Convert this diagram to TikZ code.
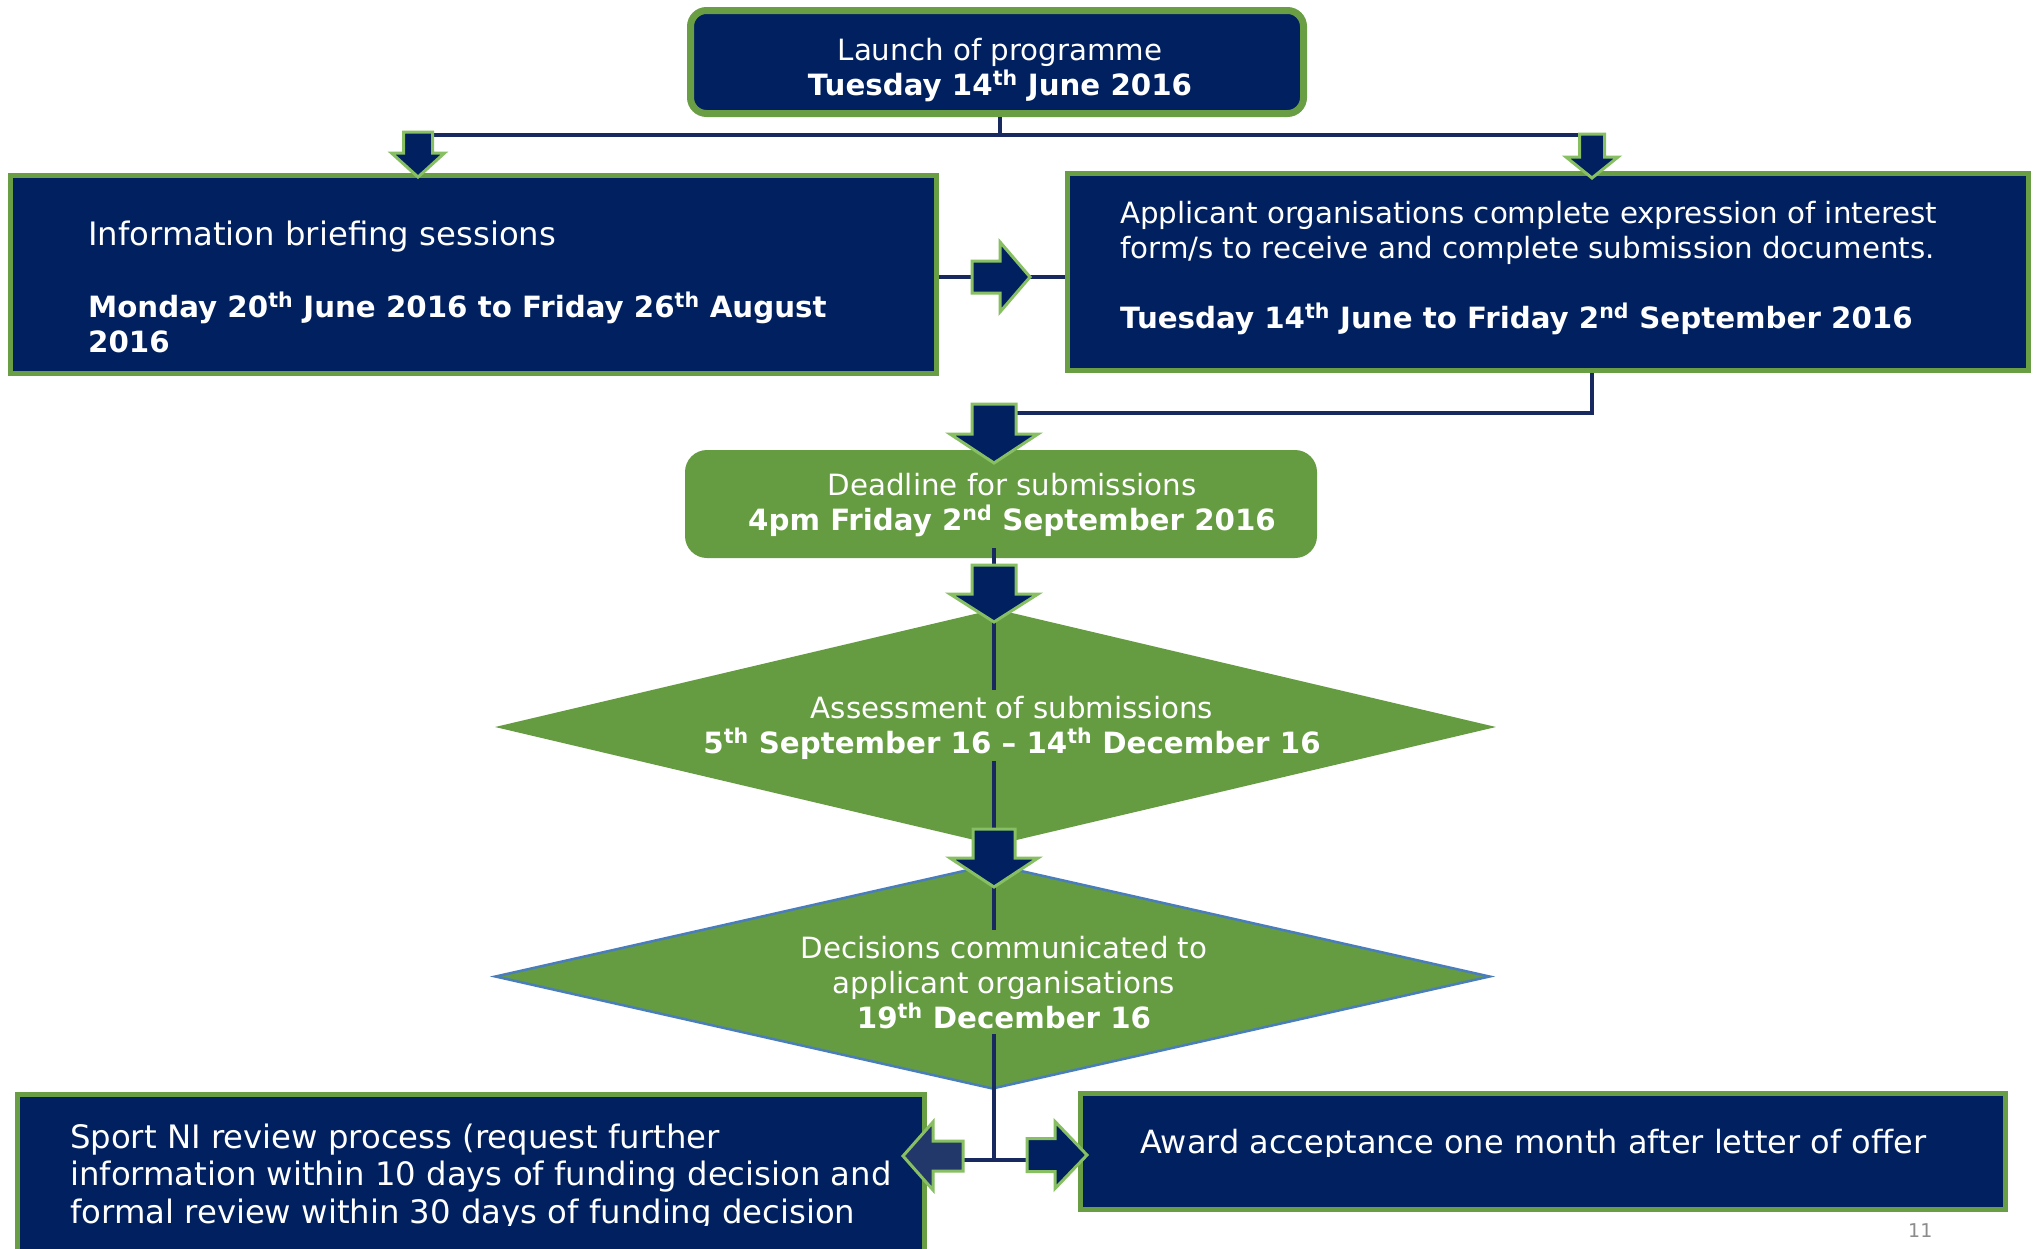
\documentclass[tikz,border=0pt]{standalone}
\usepackage{fontspec}
\setmainfont{DejaVu Sans}
\usetikzlibrary{shapes.geometric}

\definecolor{navy}{HTML}{002060}
\definecolor{leaf}{HTML}{659B41}
\definecolor{leafedge}{HTML}{6A9E44}
\definecolor{lightleaf}{HTML}{87BF62}
\definecolor{wire}{HTML}{17295F}
\definecolor{steel}{HTML}{4A7EBB}
\definecolor{dimnavy}{HTML}{22386A}
\definecolor{pagegray}{HTML}{8C8C8C}

% boxes at the bottom, connectors above them, arrows and texts on top
\pgfdeclarelayer{boxes}
\pgfdeclarelayer{wires}
\pgfsetlayers{boxes,wires,main}

\tikzset{
  navybox/.style={rectangle, draw=leafedge, fill=navy, line width=5pt, inner sep=0},
  conn/.style={draw=wire, line width=4pt},
  blockarrow/.style={draw=lightleaf, line width=3pt, line join=miter},
  txt/.style={inner sep=0, text=white, font=\fontsize{29.3}{35}\selectfont},
  % block arrow, tip at the origin, pointing right:
  % #1 length, #2 head length, #3 head half width, #4 shaft half width, #5 fill
  pics/barrow/.style n args={5}{code={
    \path[blockarrow, fill=#5] (0,0) -- (-#2,-#3) -- (-#2,-#4) -- (-#1,-#4)
      -- (-#1,#4) -- (-#2,#4) -- (-#2,#3) -- cycle;
    \coordinate (-tip) at (0,0);
    \coordinate (-tail) at (-#1,0);
  }}
}

\begin{document}
\begin{tikzpicture}[x=1pt, y=-1pt]
\useasboundingbox (0,0) rectangle (2033,1248);

% ---------- boxes ----------
\begin{pgfonlayer}{boxes}
\fill[white] (0,0) rectangle (2033,1248);
\node[navybox, line width=7pt, rounded corners=16pt,
      minimum width=613pt, minimum height=103pt] (launch) at (997,62) {};
\node[navybox, minimum width=926pt, minimum height=198pt] (lbox) at (473.5,274.5) {};
\node[navybox, minimum width=961pt, minimum height=197pt] (rbox) at (1548,272) {};
\node[rectangle, fill=leaf, rounded corners=22pt, inner sep=0,
      minimum width=632pt, minimum height=108pt] (dead) at (1001,504) {};
\node[diamond, fill=leaf, inner sep=0, aspect=4.24,
      minimum width=1001pt, minimum height=236pt] (assess) at (995.5,727) {};
\node[diamond, fill=leaf, draw=steel, line width=2.5pt, inner sep=0, aspect=4.4,
      minimum width=995pt, minimum height=225pt] (decide) at (992.5,976.5) {};
\node[navybox, minimum width=907pt, minimum height=157.5pt] (sbox) at (471,1173.25) {};
\node[navybox, minimum width=925pt, minimum height=116pt] (abox) at (1543,1151.5) {};
\end{pgfonlayer}

% ---------- junction points ----------
\coordinate (jTop) at (1000,135);
\coordinate (jC) at (994,413);
\coordinate (g1a) at (994,690);
\coordinate (g1b) at (994,761);
\coordinate (g2a) at (994,930);
\coordinate (g2b) at (994,1034);
\coordinate (jB) at (994,1160);

% ---------- block arrows ----------
\pic[rotate=-90] (aA1) at (418,177) {barrow={45}{24}{26.5}{14.5}{navy}};
\pic[rotate=-90] (aA2) at (1592,178) {barrow={44}{21}{26}{12.5}{navy}};
\pic (aB) at (1030,277) {barrow={58}{30}{35}{16}{navy}};
\pic[rotate=-90] (aC) at (994,463) {barrow={59}{29}{44}{22}{navy}};
\pic[rotate=-90] (aD) at (994,622) {barrow={57}{28}{44}{22}{navy}};
\pic[rotate=-90] (aE) at (994,887) {barrow={58}{29}{44}{21}{navy}};
\pic[rotate=180] (aF) at (903,1156) {barrow={60}{30}{34}{15}{dimnavy}};
\pic (aG) at (1087,1155) {barrow={60}{32}{33.5}{16.5}{navy}};

% ---------- connectors ----------
\begin{pgfonlayer}{wires}
\draw[conn] (launch.south -| jTop) -- (jTop);
\draw[conn] (aA1-tail |- jTop) -- (aA2-tail |- jTop);
\draw[conn] (lbox.east |- aB-tail) -- (aB-tail);
\draw[conn] (aB-tip) -- (rbox.west |- aB-tip);
\draw[conn] (rbox.south -| aA2-tip) |- (jC);
\draw[conn] (dead.south -| aD-tail) ++(0,-10) -- (aD-tail);
\draw[conn] (aD-tip) -- (g1a);
\draw[conn] (g1b) -- (aE-tail);
\draw[conn] (aE-tip) -- (g2a);
\draw[conn] (g2b) -- (jB);
\draw[conn] (aF-tail |- jB) -- (aG-tail |- jB);
\end{pgfonlayer}

% ---------- texts ----------
\node[txt, anchor=base] (tLaunch) at (1000,60)
  {\parbox[t]{800pt}{\centering Launch of programme\\
   \textbf{Tuesday 14\textsuperscript{th} June 2016}}};
\node[txt, anchor=base west] (tBrief) at (88,245)
  {\parbox[t]{860pt}{\raggedright {\fontsize{32.3}{35}\selectfont Information briefing sessions}\\[37pt]
   \textbf{Monday 20\textsuperscript{th} June 2016 to Friday 26\textsuperscript{th} August}\\
   \textbf{2016}}};
\node[txt, anchor=base west] (tApply) at (1120,223)
  {\parbox[t]{900pt}{\raggedright Applicant organisations complete expression of interest\\
   form/s to receive and complete submission documents.\\[35pt]
   \textbf{Tuesday 14\textsuperscript{th} June to Friday 2\textsuperscript{nd} September 2016}}};
\node[txt, anchor=base] (tDead) at (1012,495)
  {\parbox[t]{800pt}{\centering Deadline for submissions\\
   \textbf{4pm Friday 2\textsuperscript{nd} September 2016}}};
\node[txt, anchor=base] (tAssess) at (1012,718)
  {\parbox[t]{800pt}{\centering Assessment of submissions\\
   \textbf{5\textsuperscript{th} September 16 – 14\textsuperscript{th} December 16}}};
\node[txt, anchor=base] (tDecide) at (1004,958)
  {\parbox[t]{800pt}{\centering Decisions communicated to\\
   applicant organisations\\
   \textbf{19\textsuperscript{th} December 16}}};
\begin{scope}
  \clip (0,0) rectangle (2033,1225);
  \node[txt, font=\fontsize{32.3}{37.5}\selectfont, anchor=base west] (tReview) at (70,1148)
    {\parbox[t]{880pt}{\raggedright Sport NI review process (request further\\
     information within 10 days of funding decision and\\
     formal review within 30 days of funding decision}};
\end{scope}
\begin{scope}
  \clip (0,0) rectangle (2033,1156);
  \node[txt, font=\fontsize{32}{38}\selectfont, anchor=base west] (tAward) at (1140,1153)
    {Award acceptance one month after letter of offer};
\end{scope}
\node[inner sep=0, anchor=base west, text=pagegray,
      font=\fontsize{19}{23}\selectfont] (pageno) at (1908,1237) {11};
\end{tikzpicture}
\end{document}
